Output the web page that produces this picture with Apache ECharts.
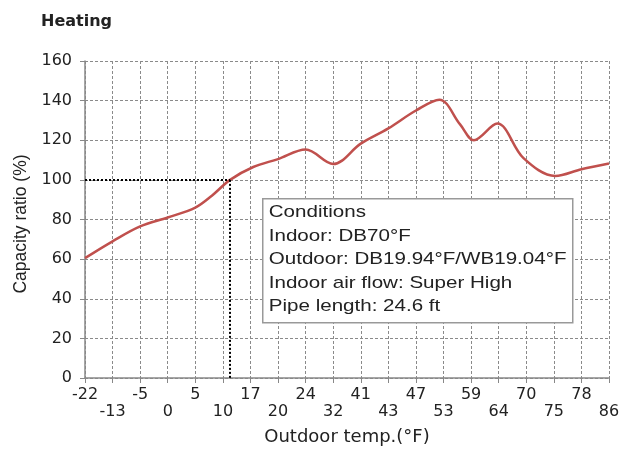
<!DOCTYPE html>
<html>
<head>
<meta charset="utf-8">
<script src="https://cdn.jsdelivr.net/npm/echarts@6/dist/echarts.min.js"></script>
<style>
  html, body { margin: 0; padding: 0; background: #fff; }
  #chart { width: 629px; height: 451px; }
</style>
</head>
<body>
<div id="chart"></div>
<script>
// x axis tick labels (evenly spaced, not to scale)
var tempLabels = ['-22', '-13', '-5', '0', '5', '10', '17', '20', '24', '32',
                  '41', '43', '47', '53', '59', '64', '70', '75', '78', '86'];
// curve points: position along the label index, capacity ratio (%)
var tempIndex = [0, 1, 2, 3, 4, 4.6, 5.26, 6.1, 7, 8, 9, 10, 11, 12, 12.85, 13.6, 14.1, 14.95, 15.9, 17.05, 18, 19];
var capRatio  = [60.5, 69, 76.5, 81, 86, 92, 100, 106.5, 110.5, 115.3, 108, 118.3, 126, 135, 140.5, 128, 120, 128.4, 111, 102, 105.4, 108.3];
// 100% reference point
var refIndex = 5.26;
var refRatio = 100;
var conditions = [
    'Conditions',
    'Indoor: DB70°F',
    'Outdoor: DB19.94°F/WB19.04°F',
    'Indoor air flow: Super High',
    'Pipe length: 24.6 ft'
];

var seriesData = [];
for (var i = 0; i < tempIndex.length; i++) {
    seriesData.push([tempIndex[i], capRatio[i]]);
}

// the source picture is a bit stretched sideways, so wide fonts for horizontal text
var wide = '"DejaVu Sans", sans-serif';
var font = '"Liberation Sans", Arial, sans-serif';
var chart = echarts.init(document.getElementById('chart'));

var option = {
    animation: false,
    title: {
        text: 'Heating',
        left: 36,
        top: 9,
        textStyle: { fontFamily: wide, fontSize: 16, fontWeight: 'bold', color: '#222' }
    },
    grid: { left: 85, right: 20, top: 61, bottom: 71 },
    xAxis: {
        type: 'value',
        min: 0,
        max: 19,
        interval: 1,
        name: 'Outdoor temp.(°F)',
        nameLocation: 'middle',
        nameGap: 50,
        nameTextStyle: { fontFamily: wide, fontSize: 18, color: '#222' },
        axisLine: { lineStyle: { color: '#888', width: 1.5 } },
        axisTick: { show: true, length: 5, lineStyle: { color: '#888' } },
        axisLabel: {
            fontFamily: wide, fontSize: 16, color: '#222', margin: 8, lineHeight: 17,
            formatter: function (v) {
                var s = tempLabels[Math.round(v)];
                return Math.round(v) % 2 ? '\n' + s : s;
            }
        },
        splitLine: { show: true, lineStyle: { color: '#8a8a8a', type: [3, 2], width: 1 } }
    },
    yAxis: {
        type: 'value',
        min: 0,
        max: 160,
        interval: 20,
        name: 'Capacity ratio (%)',
        nameLocation: 'middle',
        nameGap: 50,
        nameTextStyle: { fontFamily: font, fontSize: 17.5, color: '#222', padding: [0, 9, 0, 0] },
        axisLine: { show: true, lineStyle: { color: '#888', width: 1.5 } },
        axisTick: { show: true, length: 5, lineStyle: { color: '#888' } },
        axisLabel: { fontFamily: wide, fontSize: 16, color: '#222', margin: 13 },
        splitLine: { show: true, lineStyle: { color: '#8a8a8a', type: [3, 2], width: 1 } }
    },
    series: [{
        type: 'line',
        data: seriesData,
        smooth: 0.35,
        symbol: 'none',
        lineStyle: { color: '#c0504d', width: 2.5 },
        markLine: {
            silent: true,
            symbol: 'none',
            label: { show: false },
            lineStyle: { color: '#000', type: 'dotted', width: 2 },
            data: [
                [{ coord: [0, refRatio] }, { coord: [refIndex, refRatio] }],
                [{ coord: [refIndex, refRatio] }, { coord: [refIndex, 0] }]
            ]
        }
    }],
    graphic: [{
        type: 'group',
        left: 262,
        top: 198,
        z: 100,
        children: [{
            type: 'rect',
            z: 100,
            shape: { x: 0, y: 0, width: 310, height: 124 },
            style: { fill: '#fff', stroke: '#999', lineWidth: 1.5 }
        }, {
            type: 'text',
            z: 101,
            x: 6,
            y: 2,
            scaleX: 1.21,
            style: {
                text: conditions.join('\n'),
                font: '17px ' + font,
                fill: '#222',
                lineHeight: 23.5
            }
        }]
    }]
};

chart.setOption(option);
</script>
</body>
</html>
